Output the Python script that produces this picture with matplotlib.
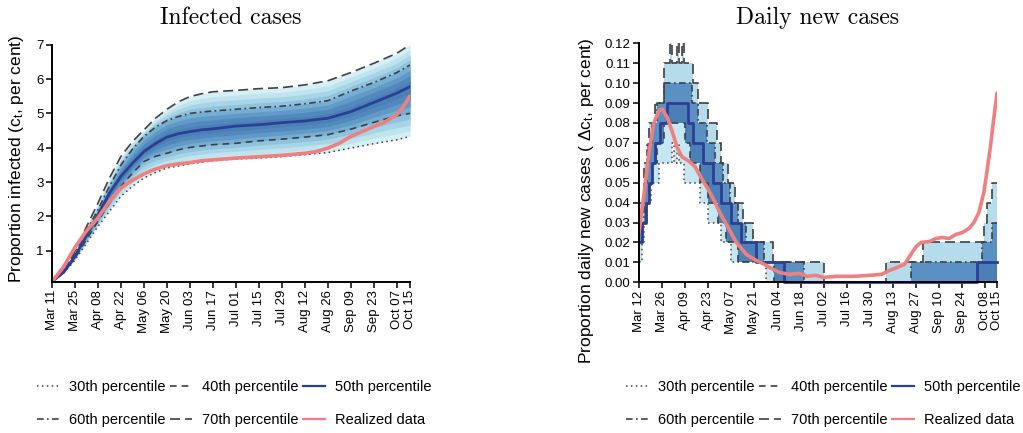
import numpy as np
import matplotlib
matplotlib.use("Agg")
import matplotlib.pyplot as plt
from matplotlib.lines import Line2D

plt.rcParams['font.family'] = ['Liberation Sans', 'DejaVu Sans']
plt.rcParams['mathtext.default'] = 'regular'

# ---------------- Left panel: Infected cases (per cent) ----------------
inf_tick_days = [0, 14, 28, 42, 56, 70, 84, 98, 112, 126, 140, 154, 168, 182, 196, 210, 218]
inf_tick_labels = ["Mar 11", "Mar 25", "Apr 08", "Apr 22", "May 06", "May 20", "Jun 03",
                   "Jun 17", "Jul 01", "Jul 15", "Jul 29", "Aug 12", "Aug 26", "Sep 09",
                   "Sep 23", "Oct 07", "Oct 15"]

inf_days = [0, 7, 14, 21, 28, 35, 42, 49, 56, 63, 70, 77, 84, 91, 98, 112, 126, 140,
            154, 168, 182, 196, 210, 218]
inf_p70 = [0.10, 0.44, 0.99, 1.70, 2.39, 3.12, 3.75, 4.18, 4.52, 4.86, 5.12, 5.34, 5.49,
           5.57, 5.63, 5.67, 5.72, 5.75, 5.83, 5.95, 6.19, 6.46, 6.75, 7.00]
inf_p60 = [0.10, 0.41, 0.92, 1.58, 2.20, 2.88, 3.50, 3.96, 4.33, 4.60, 4.79, 4.91, 5.00,
           5.04, 5.07, 5.12, 5.17, 5.21, 5.28, 5.37, 5.65, 5.90, 6.19, 6.41]
inf_p50 = [0.10, 0.38, 0.84, 1.45, 2.05, 2.68, 3.17, 3.55, 3.89, 4.12, 4.31, 4.41, 4.47,
           4.52, 4.55, 4.63, 4.67, 4.73, 4.78, 4.86, 5.05, 5.32, 5.59, 5.78]
inf_p40 = [0.10, 0.36, 0.79, 1.33, 1.86, 2.39, 2.88, 3.26, 3.60, 3.75, 3.84, 3.94, 4.01,
           4.05, 4.09, 4.13, 4.20, 4.25, 4.31, 4.38, 4.54, 4.74, 4.93, 5.00]
inf_p30 = [0.10, 0.34, 0.73, 1.22, 1.71, 2.15, 2.59, 2.88, 3.12, 3.28, 3.41, 3.47, 3.53,
           3.58, 3.62, 3.67, 3.70, 3.74, 3.80, 3.86, 3.99, 4.12, 4.23, 4.33]

inf_real_days = [0, 7, 14, 21, 28, 35, 42, 49, 56, 63, 70, 77, 84, 91, 98, 112, 126, 140,
                 154, 161, 168, 175, 182, 189, 196, 203, 210, 214, 218]
inf_real = [0.10, 0.53, 1.10, 1.58, 1.96, 2.44, 2.83, 3.05, 3.24, 3.38, 3.48, 3.53, 3.57,
            3.62, 3.65, 3.70, 3.74, 3.78, 3.84, 3.89, 3.99, 4.13, 4.33, 4.47, 4.62, 4.76,
            4.96, 5.20, 5.51]

# ---------------- Right panel: Daily new cases (per cent) ----------------
new_tick_days = [0, 14, 28, 42, 56, 70, 84, 98, 112, 126, 140, 154, 168, 182, 196, 210, 217]
new_tick_labels = ["Mar 12", "Mar 26", "Apr 09", "Apr 23", "May 07", "May 21", "Jun 04",
                   "Jun 18", "Jul 02", "Jul 16", "Jul 30", "Aug 13", "Aug 27", "Sep 10",
                   "Sep 24", "Oct 08", "Oct 15"]
new_last_day = 217

# step change points (day, value)
new_p70_d = [0, 3, 6, 10, 15, 19, 20, 23, 24, 26, 27, 33, 36, 42, 47, 50, 54, 58, 63, 69,
             81, 112, 150, 172, 209, 211, 214, 216]
new_p70_v = [0.04, 0.06, 0.08, 0.09, 0.11, 0.12, 0.11, 0.12, 0.11, 0.12, 0.11, 0.10, 0.09,
             0.08, 0.07, 0.06, 0.05, 0.04, 0.03, 0.02, 0.01, 0.00, 0.01, 0.02, 0.03, 0.04,
             0.05, 0.05]
new_p60_d = [0, 3, 5, 8, 11, 15, 32, 36, 41, 46, 51, 55, 60, 65, 76, 100, 165, 208, 214]
new_p60_v = [0.03, 0.05, 0.07, 0.08, 0.09, 0.10, 0.09, 0.08, 0.07, 0.06, 0.05, 0.04, 0.03,
             0.02, 0.01, 0.00, 0.01, 0.02, 0.03]
new_p50_d = [0, 2, 4, 6, 8, 10, 13, 17, 30, 33, 39, 45, 50, 56, 62, 71, 88, 205]
new_p50_v = [0.02, 0.03, 0.04, 0.05, 0.06, 0.07, 0.08, 0.09, 0.08, 0.07, 0.06, 0.05, 0.04,
             0.03, 0.02, 0.01, 0.00, 0.01]
new_p40_d = [0, 2, 4, 6, 8, 11, 15, 28, 31, 37, 42, 48, 53, 60, 82]
new_p40_v = [0.02, 0.03, 0.04, 0.05, 0.06, 0.07, 0.08, 0.07, 0.06, 0.05, 0.04, 0.03, 0.02,
             0.01, 0.00]
new_p30_d = [0, 2, 3, 5, 7, 12, 20, 21, 23, 24, 27, 37, 42, 50, 56, 77]
new_p30_v = [0.01, 0.02, 0.03, 0.04, 0.05, 0.06, 0.07, 0.06, 0.07, 0.06, 0.05, 0.04, 0.03,
             0.02, 0.01, 0.00]

new_real_days = [0, 3, 6, 9, 12, 14, 17, 20, 23, 26, 30, 34, 38, 41, 45, 49, 55, 59, 65, 71,
                 76, 79, 85, 91, 97, 102, 107, 112, 120, 130, 140, 147, 152, 158, 161, 164,
                 168, 171, 176, 180, 184, 188, 192, 196, 200, 203, 206, 209, 211, 213, 215, 217]
new_real = [0.025, 0.044, 0.065, 0.080, 0.086, 0.087, 0.083, 0.076, 0.068, 0.063, 0.061,
            0.058, 0.052, 0.048, 0.042, 0.035, 0.026, 0.020, 0.014, 0.011, 0.009, 0.0075,
            0.005, 0.004, 0.0045, 0.003, 0.0035, 0.0025, 0.003, 0.003, 0.0035, 0.004, 0.006,
            0.008, 0.009, 0.013, 0.018, 0.020, 0.0205, 0.022, 0.0225, 0.022, 0.024, 0.025,
            0.027, 0.030, 0.035, 0.045, 0.056, 0.068, 0.082, 0.095]

# ---------------- styles ----------------
band_colors = ['#d6eff5', '#c0e4ee', '#a7d4e7', '#8ec2de', '#76aed3', '#6199c7', '#5289bd', '#4a80b6']
line_gray = '#404040'
med_color = '#2b3f94'
real_color = '#f08080'
styles = {
    'p30': dict(color=line_gray, lw=1.1, ls=(0, (1, 2.2))),
    'p40': dict(color=line_gray, lw=1.2, ls=(0, (4, 3))),
    'p60': dict(color=line_gray, lw=1.2, ls=(0, (4, 2, 1, 2))),
    'p70': dict(color=line_gray, lw=1.2, ls=(0, (6, 3))),
}


def fan(ax, x, p30, p40, p50, p60, p70):
    p30, p40, p50, p60, p70 = map(np.asarray, (p30, p40, p50, p60, p70))
    n = len(band_colors)
    for i in range(n):
        t = 2 * i / n
        if t <= 1:
            lo = p30 + t * (p40 - p30)
            hi = p70 - t * (p70 - p60)
        else:
            lo = p40 + (t - 1) * (p50 - p40)
            hi = p60 - (t - 1) * (p60 - p50)
        ax.fill_between(x, lo, hi, color=band_colors[i], lw=0)


def expand(days, vals, last):
    d = np.arange(last + 1)
    idx = np.searchsorted(np.asarray(days), d, side='right') - 1
    return d, np.asarray(vals)[idx]


fig = plt.figure(figsize=(10.23, 4.33), dpi=100)
axL = fig.add_axes([52 / 1023, 1 - 281.7 / 433, 358 / 1023, 237 / 433])
axR = fig.add_axes([639 / 1023, 1 - 282.3 / 433, 358 / 1023, 239 / 433])

# Left
fan(axL, inf_days, inf_p30, inf_p40, inf_p50, inf_p60, inf_p70)
axL.plot(inf_days, inf_p30, **styles['p30'])
axL.plot(inf_days, inf_p40, **styles['p40'])
axL.plot(inf_days, inf_p60, **styles['p60'])
axL.plot(inf_days, inf_p70, **styles['p70'])
axL.plot(inf_days, inf_p50, color=med_color, lw=2)
axL.plot(inf_real_days, inf_real, color=real_color, lw=2.6, solid_capstyle='round')
axL.set_xlim(0, 218)
axL.set_ylim(0.1, 7.0)
axL.set_yticks([1, 2, 3, 4, 5, 6, 7])
axL.set_xticks(inf_tick_days)
axL.set_xticklabels(inf_tick_labels, rotation=90)
axL.set_ylabel("Proportion infected (c$_t$, per cent)", fontsize=12.5)
axL.yaxis.set_label_coords(-0.073, 0.52)

# Right
dd, r30 = expand(new_p30_d, new_p30_v, new_last_day)
_, r40 = expand(new_p40_d, new_p40_v, new_last_day)
_, r50 = expand(new_p50_d, new_p50_v, new_last_day)
_, r60 = expand(new_p60_d, new_p60_v, new_last_day)
_, r70 = expand(new_p70_d, new_p70_v, new_last_day)
axR.fill_between(dd, r30, r40, step='post', color='#c6e6f1', lw=0)
axR.fill_between(dd, r60, r70, step='post', color='#b6dbeb', lw=0)
axR.fill_between(dd, r40, r50, step='post', color='#4a80b6', lw=0)
axR.fill_between(dd, r50, r60, step='post', color='#5b90c3', lw=0)
kw = dict(drawstyle='steps-post', clip_on=False)
axR.plot(dd, r30, **styles['p30'], **kw)
axR.plot(dd, r40, **styles['p40'], **kw)
axR.plot(dd, r60, **styles['p60'], **kw)
axR.plot(dd, r70, **styles['p70'], **kw)
axR.plot(dd, r50, color=med_color, lw=2, **kw)
axR.plot(new_real_days, new_real, color=real_color, lw=2.6, solid_capstyle='round')
axR.set_xlim(0, new_last_day)
axR.set_ylim(0, 0.12)
axR.set_yticks(np.arange(0, 0.121, 0.01))
axR.yaxis.set_major_formatter(matplotlib.ticker.FormatStrFormatter('%.2f'))
axR.set_xticks(new_tick_days)
axR.set_xticklabels(new_tick_labels, rotation=90)
axR.set_ylabel("Proportion daily new cases ( $\\Delta$c$_t$, per cent)", fontsize=12.5)
axR.yaxis.set_label_coords(-0.12, 0.34)

for ax in (axL, axR):
    for s in ('top', 'right'):
        ax.spines[s].set_visible(False)
    for s in ('left', 'bottom'):
        ax.spines[s].set_linewidth(1.4)
    ax.tick_params(direction='out', length=4, width=1.1, labelsize=9.5, pad=2)

fig.text(231 / 1023, 1 - 18 / 433, "Infected cases", family='cmr10', fontsize=17,
         ha='center', va='center')
fig.text(818 / 1023, 1 - 18 / 433, "Daily new cases", family='cmr10', fontsize=17,
         ha='center', va='center')

handles = [Line2D([], [], **styles['p30']), Line2D([], [], **styles['p60']),
           Line2D([], [], **styles['p40']), Line2D([], [], **styles['p70']),
           Line2D([], [], color=med_color, lw=1.6), Line2D([], [], color=real_color, lw=1.6)]
labels = ["30th percentile", "60th percentile", "40th percentile", "70th percentile",
          "50th percentile", "Realized data"]
for cx in (234 / 1023, 823 / 1023):
    fig.legend(handles, labels, ncol=3, loc='center', bbox_to_anchor=(cx, 1 - 403.5 / 433),
               frameon=False, fontsize=10.5, handlelength=1.5, handletextpad=0.7,
               columnspacing=0.3, labelspacing=1.25)

fig.savefig("out.png", dpi=100)
